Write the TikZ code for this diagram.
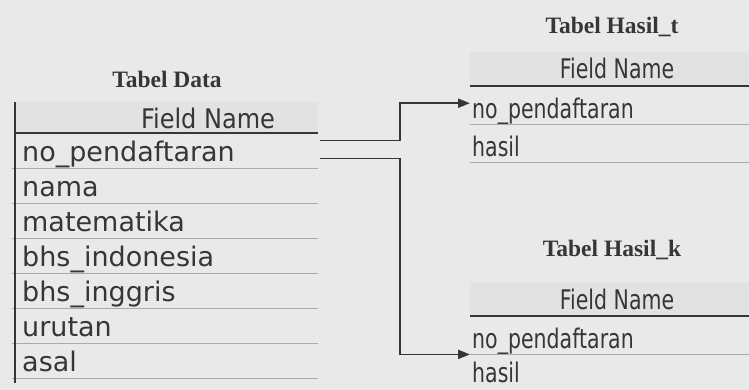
\documentclass[tikz,border=0pt]{standalone}
\usepackage{fontspec}
\usepackage{tikz}
\usetikzlibrary{positioning, arrows.meta, calc}
\newfontfamily\gridfont{DejaVu Sans}
\newfontfamily\gridnarrow[FakeStretch=0.76]{DejaVu Sans}
\newfontfamily\headfont[FakeStretch=0.89]{DejaVu Sans}
\newfontfamily\titlefont{Liberation Serif}
\definecolor{paper}{HTML}{E9E9E9}
\definecolor{headgray}{HTML}{E2E2E2}
\definecolor{inkgray}{HTML}{363636}
\definecolor{rulegray}{HTML}{ABABAB}

\tikzset{
  tabletitle/.style={font=\titlefont\fontsize{23.5}{28}\selectfont\bfseries, text=inkgray, inner sep=0pt},
  headtext/.style={font=\headfont\fontsize{27}{30}\selectfont, text=inkgray, inner sep=0pt},
  headtextsm/.style={font=\gridnarrow\fontsize{27}{30}\selectfont, text=inkgray, inner sep=0pt},
  datarow/.style={anchor=north west, minimum height=34.6pt, text width=289pt,
                  inner xsep=7pt, inner ysep=0pt, align=left, text height=28.6pt, text depth=6pt,
                  font=\gridfont\fontsize{27}{30}\selectfont, text=inkgray},
  hasilrow/.style={anchor=north west, minimum height=38pt, text width=275pt,
                   inner xsep=2pt, inner ysep=0pt, align=left, text height=32pt, text depth=6pt,
                   font=\gridnarrow\fontsize{27}{30}\selectfont, text=inkgray},
  headrule/.style={draw=inkgray, line width=1.7pt},
  rowrule/.style={draw=rulegray, line width=0.8pt},
  relation/.style={draw=inkgray, line width=1.8pt, -{Triangle[length=12pt,width=9pt]}}
}

\begin{document}
\begin{tikzpicture}[x=1pt, y=-1pt]
    \useasboundingbox (0,0) rectangle (749,390);
    \fill[paper] (0,0) rectangle (749,390);

    % Tabel Data
    \fill[headgray] (15,102) rectangle (318,133);
    \node[tabletitle] (dtitle) at (167,79) {Tabel Data};
    \node[headtext] (dhead) at (208,118) {Field Name};
    \node[datarow] (d1) at (15,133) {no\_pendaftaran};
    \node[datarow, below=0pt of d1] (d2) {nama};
    \node[datarow, below=0pt of d2] (d3) {matematika};
    \node[datarow, below=0pt of d3] (d4) {bhs\_indonesia};
    \node[datarow, below=0pt of d4] (d5) {bhs\_inggris};
    \node[datarow, below=0pt of d5] (d6) {urutan};
    \node[datarow, below=0pt of d6] (d7) {asal};
    \foreach \r in {d1,d2,d3,d4,d5,d6,d7}
      \draw[rowrule] ($(\r.south west)+(-3,0)$) -- (\r.south east);
    \draw[headrule] (d1.north west) -- (d1.north east);
    \draw[headrule] (15,102) -- (15,383);

    % Tabel Hasil_t
    \fill[headgray] (470,52) rectangle (749,86);
    \node[tabletitle] (ttitle) at (612,27) {Tabel Hasil\_t};
    \node[headtextsm] (thead) at (617,68) {Field Name};
    \node[hasilrow] (t1) at (470,86) {no\_pendaftaran};
    \node[hasilrow, below=0pt of t1] (t2) {hasil};
    \draw[rowrule] (t1.south west) -- (t1.south east);
    \draw[rowrule] (t2.south west) -- (t2.south east);
    \draw[headrule] (t1.north west) -- (t1.north east);

    % Tabel Hasil_k
    \fill[headgray] (470,282) rectangle (749,316);
    \node[tabletitle] (ktitle) at (612,250) {Tabel Hasil\_k};
    \node[headtextsm] (khead) at (617,299) {Field Name};
    \node[hasilrow] (k1) at (470,316) {no\_pendaftaran};
    \node[hasilrow, below=0pt of k1, minimum height=31pt, text height=28pt, text depth=3pt] (k2) {hasil};
    \draw[rowrule] (k1.south west) -- (k1.south east);
    \draw[headrule] (k1.north west) -- (k1.north east);

    % relasi
    \coordinate (elbow) at (400,0);
    \draw[relation] ($(d1.east)+(2,-10)$) coordinate (from1) -- (from1 -| elbow) |- ($(t1.west)+(0,-2)$);
    \draw[relation] ($(d1.east)+(2,8)$) coordinate (from2) -- (from2 -| elbow) |- (k1.south west);
  \end{tikzpicture}
\end{document}
